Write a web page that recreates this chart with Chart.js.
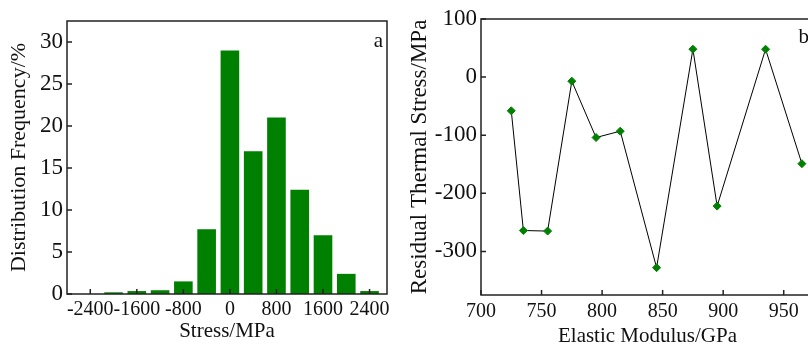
<!DOCTYPE html>
<html lang="en">
<head>
<meta charset="UTF-8">
<title>Stress distribution and residual thermal stress</title>
<script src="https://cdn.jsdelivr.net/npm/chart.js"></script>
<style>
    body {
        margin: 0;
        width: 808px;
        height: 347px;
        overflow: hidden;
        background: #fff;
        position: relative;
    }
    #chartA { position: absolute; left: 0; top: 0; }
    #chartB { position: absolute; left: 400px; top: 0; }
</style>
</head>
<body>
<canvas id="chartA" width="400" height="347"></canvas>
<canvas id="chartB" width="430" height="347"></canvas>
<script>
// panel a - stress histogram
const stressBins = [-2000, -1600, -1200, -800, -400, 0, 400, 800, 1200, 1600, 2000, 2400];
const frequency = [0.2, 0.35, 0.45, 1.5, 7.7, 29, 17, 21, 12.4, 7, 2.4, 0.35];
const stressTicks = [-2400, -1600, -800, 0, 800, 1600, 2400];
const freqTicks = [0, 5, 10, 15, 20, 25, 30];

// panel b - residual thermal stress vs elastic modulus
const modulus = [725, 735, 755, 775, 795, 815, 845, 875, 895, 935, 965];
const thermalStress = [-58, -264, -265, -7, -104, -93, -328, 48, -222, 48, -149];
const modulusTicks = [700, 750, 800, 850, 900, 950];
const thermalTicks = [-300, -200, -100, 0, 100];

const GREEN = '#008000';
const INK = '#111';

Chart.defaults.font.family = "'Liberation Serif', 'Times New Roman', serif";
Chart.defaults.font.size = 20;
Chart.defaults.color = INK;

// box round the plot, inward tick marks and the panel letter
const framePlugin = {
    id: 'frame',
    afterDraw(chart, args, opts) {
        const { ctx, chartArea: a, scales } = chart;
        ctx.save();
        ctx.strokeStyle = '#222';
        ctx.lineWidth = 1.5;
        ctx.strokeRect(a.left, a.top, a.right - a.left, a.bottom - a.top);
        ctx.beginPath();
        scales.x.ticks.forEach(t => {
            const px = scales.x.getPixelForValue(t.value);
            ctx.moveTo(px, a.bottom);
            ctx.lineTo(px, a.bottom - 5);
        });
        scales.y.ticks.forEach(t => {
            const py = scales.y.getPixelForValue(t.value);
            ctx.moveTo(a.left, py);
            ctx.lineTo(a.left + 5, py);
        });
        ctx.stroke();
        ctx.fillStyle = INK;
        ctx.font = "21px 'Liberation Serif', serif";
        ctx.textAlign = 'right';
        ctx.fillText(opts.letter, a.right - opts.dx, a.top + opts.dy);
        ctx.restore();
    }
};

const plain = v => String(v);
const noGrid = { display: false, drawTicks: false };

new Chart(document.getElementById('chartA'), {
    type: 'bar',
    data: {
        datasets: [{
            data: stressBins.map((x, i) => ({ x: x, y: frequency[i] })),
            backgroundColor: GREEN,
            borderWidth: 0,
            barPercentage: 0.8,
            categoryPercentage: 1
        }]
    },
    options: {
        responsive: false,
        animation: false,
        layout: { padding: { top: 21, right: 13, left: 0, bottom: 0 } },
        plugins: {
            legend: { display: false },
            tooltip: { enabled: false },
            frame: { letter: 'a', dx: 4, dy: 26 }
        },
        scales: {
            x: {
                type: 'linear',
                min: -2800,
                max: 2700,
                offset: false,
                grid: noGrid,
                border: { display: false },
                afterBuildTicks: s => { s.ticks = stressTicks.map(v => ({ value: v })); },
                afterFit: s => { s.height = 53; },
                ticks: { callback: plain, autoSkip: false, maxRotation: 0, padding: 4 },
                title: { display: true, text: 'Stress/MPa', font: { size: 21 }, padding: { top: 0, bottom: 3 } }
            },
            y: {
                min: 0,
                max: 32.5,
                grid: noGrid,
                border: { display: false },
                afterBuildTicks: s => { s.ticks = freqTicks.map(v => ({ value: v })); },
                afterFit: s => { s.width = 67; },
                ticks: { callback: plain, padding: 4, font: { size: 23 } },
                title: { display: true, text: 'Distribution Frequency/%', font: { size: 22 }, padding: { top: 6, bottom: 0 } }
            }
        }
    },
    plugins: [framePlugin]
});

new Chart(document.getElementById('chartB'), {
    type: 'line',
    data: {
        datasets: [{
            data: modulus.map((x, i) => ({ x: x, y: thermalStress[i] })),
            borderColor: '#000',
            borderWidth: 1,
            tension: 0,
            pointStyle: 'rectRot',
            pointRadius: 4,
            pointBackgroundColor: GREEN,
            pointBorderColor: GREEN,
            pointBorderWidth: 1
        }]
    },
    options: {
        responsive: false,
        animation: false,
        layout: { padding: { top: 19, right: 16, left: 0, bottom: 0 } },
        plugins: {
            legend: { display: false },
            tooltip: { enabled: false },
            frame: { letter: 'b', dx: 5, dy: 24 }
        },
        scales: {
            x: {
                type: 'linear',
                min: 700,
                max: 975,
                grid: noGrid,
                border: { display: false },
                afterBuildTicks: s => { s.ticks = modulusTicks.map(v => ({ value: v })); },
                afterFit: s => { s.height = 52; },
                ticks: { callback: plain, autoSkip: false, maxRotation: 0, padding: 5 },
                title: { display: true, text: 'Elastic Modulus/GPa', font: { size: 21, lineHeight: 1 }, padding: { top: 0, bottom: 0 } }
            },
            y: {
                min: -375,
                max: 100,
                grid: noGrid,
                border: { display: false },
                afterBuildTicks: s => { s.ticks = thermalTicks.map(v => ({ value: v })); },
                afterFit: s => { s.width = 81; },
                ticks: { callback: plain, padding: 4, font: { size: 23 } },
                title: { display: true, text: 'Residual Thermal Stress/MPa', font: { size: 23 }, padding: { top: 6, bottom: 0 } }
            }
        }
    },
    plugins: [framePlugin]
});
</script>
</body>
</html>
